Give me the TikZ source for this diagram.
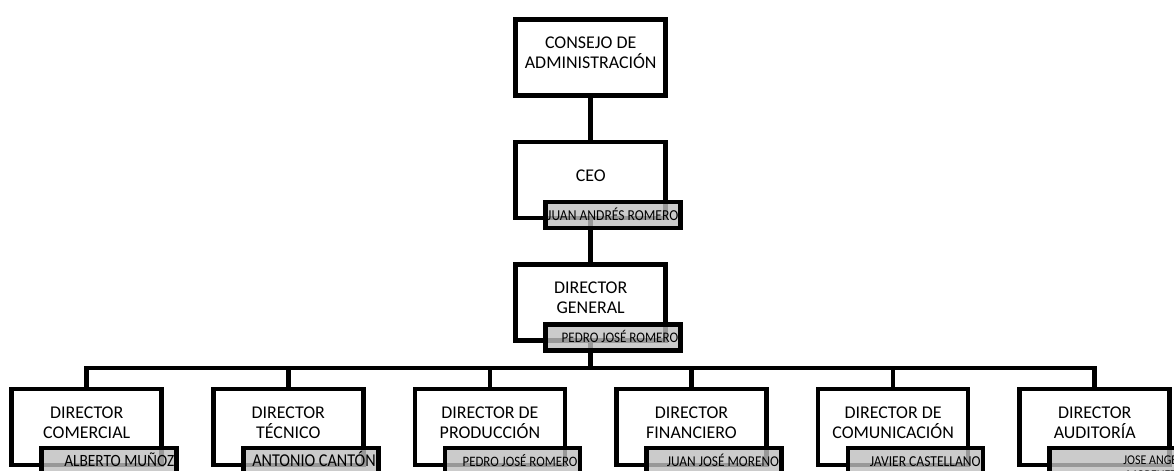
\documentclass[tikz,border=0pt]{standalone}
\usepackage{graphicx}
\usepackage{fontspec}
\setmainfont{Carlito}
\usetikzlibrary{backgrounds}

\newcommand{\nombre}[1]{\hbox to 130bp{\hss\scalebox{1}[1.12]{#1}}}

\tikzset{
  cargo/.style={draw,line width=4.5bp,fill=white,minimum width=150bp,minimum height=76bp,inner sep=0pt,align=center,font=\fontsize{18}{20}\selectfont,text depth=9bp},
  titular/.style={draw,line width=4.5bp,fill=black!25,fill opacity=0.8,text opacity=1,minimum width=135bp,minimum height=26bp,inner xsep=2.5bp,inner ysep=0pt,text height=10bp,text depth=0bp},
  enlace/.style={line width=4.5bp},
}

\begin{document}
\begin{tikzpicture}
\useasboundingbox (0bp,0bp) rectangle (1174bp,-471bp);
\clip (0bp,0bp) rectangle (1174bp,-471bp);

\node (cons) at (590.7bp,-57.5bp)[cargo] {CONSEJO DE\\ADMINISTRACIÓN};
\node (ceo) at (590.7bp,-180bp)[cargo] {CEO};
\node (ceo-n) at (613.2bp,-215bp)[titular,font=\fontsize{13.6}{15}\selectfont] {\nombre{JUAN ANDRÉS ROMERO}};
\node (dg) at (590.7bp,-302.5bp)[cargo] {DIRECTOR\\GENERAL};
\node (dg-n) at (613.2bp,-337.5bp)[titular,font=\fontsize{13.1}{15}\selectfont] {\nombre{PEDRO JOSÉ ROMERO}};
\coordinate (bus) at (590.7bp,-368bp);

\node (com) at (86.7bp,-427bp)[cargo] {DIRECTOR\\COMERCIAL};
\node (com-n) at (109.2bp,-461bp)[titular,font=\fontsize{15.4}{17}\selectfont] {\nombre{ALBERTO MUÑOZ}};
\node (tec) at (288.3bp,-427bp)[cargo] {DIRECTOR\\TÉCNICO};
\node (tec-n) at (310.8bp,-461bp)[titular,font=\fontsize{16.2}{18}\selectfont] {\nombre{ANTONIO CANTÓN}};
\node (prod) at (489.9bp,-427bp)[cargo] {DIRECTOR DE\\PRODUCCIÓN};
\node (prod-n) at (512.4bp,-461bp)[titular,font=\fontsize{12.9}{14}\selectfont] {\nombre{PEDRO JOSÉ ROMERO}};
\node (fin) at (691.5bp,-427bp)[cargo] {DIRECTOR\\FINANCIERO};
\node (fin-n) at (714bp,-461bp)[titular,font=\fontsize{13.4}{15}\selectfont] {\nombre{JUAN JOSÉ MORENO}};
\node (comu) at (893.1bp,-427bp)[cargo] {DIRECTOR DE\\COMUNICACIÓN};
\node (comu-n) at (915.6bp,-461bp)[titular,font=\fontsize{13.6}{15}\selectfont] {\nombre{JAVIER CASTELLANO}};
\node (aud) at (1094.7bp,-427bp)[cargo] {DIRECTOR\\AUDITORÍA};
\node (aud-n) at (1117.2bp,-461bp)[titular,font=\fontsize{12}{13}\selectfont] {\nombre{\raisebox{-12bp}[0pt][0pt]{\begin{tabular}[b]{@{}r@{}}JOSE ANGEL\\MORENETE\end{tabular}}}};

\begin{pgfonlayer}{background}
\fill[white] (0bp,0bp) rectangle (1174bp,-471bp);
\draw[enlace] (cons) -- (ceo);
\draw[enlace] (ceo) -- (dg);
\draw[enlace] (dg) -- (bus);
\draw[enlace] (bus) -| (com);
\draw[enlace] (bus) -| (tec);
\draw[enlace] (bus) -| (prod);
\draw[enlace] (bus) -| (fin);
\draw[enlace] (bus) -| (comu);
\draw[enlace] (bus) -| (aud);
\end{pgfonlayer}
\end{tikzpicture}
\end{document}
